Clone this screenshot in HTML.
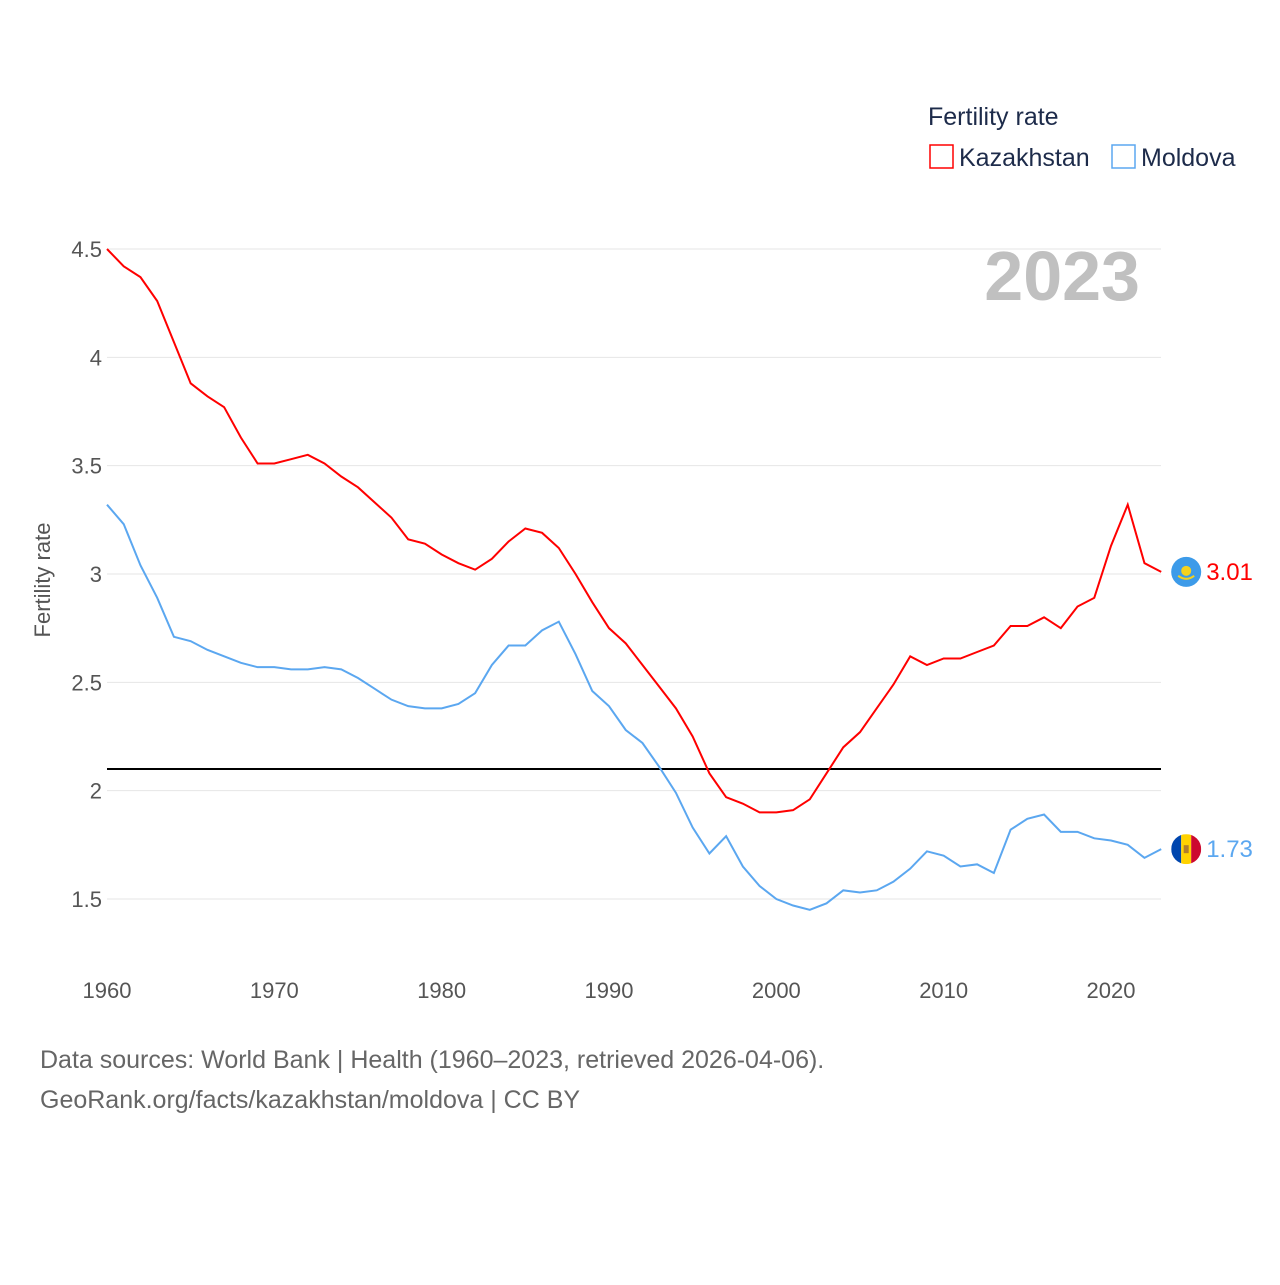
<!DOCTYPE html>
<html><head><meta charset="utf-8"><style>
body{margin:0;background:#fff;font-family:"Liberation Sans",sans-serif;}
svg text{font-family:"Liberation Sans",sans-serif;}
</style></head><body>
<svg id="chart" width="1280" height="1280" xmlns="http://www.w3.org/2000/svg">
<defs><clipPath id="mdclip"><circle cx="0" cy="0" r="15"/></clipPath></defs>
<text x="928" y="125" font-size="25" fill="#1d2b4a">Fertility rate</text>
<g><rect x="930" y="145" width="23" height="23" fill="none" stroke="#f00" stroke-width="1.5"/><text x="959" y="166" font-size="25" fill="#1d2b4a">Kazakhstan</text></g>
<g><rect x="1112" y="145" width="23" height="23" fill="none" stroke="#5ba7f0" stroke-width="1.5"/><text x="1141" y="166" font-size="25" fill="#1d2b4a">Moldova</text></g>
<text x="1140" y="300" font-size="70" font-weight="bold" fill="#c0c0c0" text-anchor="end">2023</text>
<text transform="translate(50,580) rotate(-90)" font-size="22" fill="#555" text-anchor="middle">Fertility rate</text>
<g id="grid"></g><g id="lines"></g>
<text x="40" y="1068" font-size="25" fill="#666">Data sources: World Bank | Health (1960–2023, retrieved 2026-04-06).</text>
<text x="40" y="1108" font-size="25" fill="#666">GeoRank.org/facts/kazakhstan/moldova | CC BY</text>
</svg>
<script>
const years=[];for(let y=1960;y<=2023;y++)years.push(y);
const kazakhstan=[4.50,4.42,4.37,4.26,4.07,3.88,3.82,3.77,3.63,3.51,3.51,3.53,3.55,3.51,3.45,3.40,3.33,3.26,3.16,3.14,3.09,3.05,3.02,3.07,3.15,3.21,3.19,3.12,3.00,2.87,2.75,2.68,2.58,2.48,2.38,2.25,2.08,1.97,1.94,1.90,1.90,1.91,1.96,2.08,2.20,2.27,2.38,2.49,2.62,2.58,2.61,2.61,2.64,2.67,2.76,2.76,2.80,2.75,2.85,2.89,3.13,3.32,3.05,3.01];
const moldova=[3.32,3.23,3.04,2.89,2.71,2.69,2.65,2.62,2.59,2.57,2.57,2.56,2.56,2.57,2.56,2.52,2.47,2.42,2.39,2.38,2.38,2.40,2.45,2.58,2.67,2.67,2.74,2.78,2.63,2.46,2.39,2.28,2.22,2.11,1.99,1.83,1.71,1.79,1.65,1.56,1.50,1.47,1.45,1.48,1.54,1.53,1.54,1.58,1.64,1.72,1.70,1.65,1.66,1.62,1.82,1.87,1.89,1.81,1.81,1.78,1.77,1.75,1.69,1.73];
const yTicks=[1.5,2,2.5,3,3.5,4,4.5];
const xTicks=[1960,1970,1980,1990,2000,2010,2020];
const refValue=2.1;
const X=y=>107+(y-1960)*(1004/60);
const Y=v=>899-(v-1.5)*(650/3);
const NS="http://www.w3.org/2000/svg";
const grid=document.getElementById('grid'),lines=document.getElementById('lines');
function mk(tag,attrs,parent,txt){const e=document.createElementNS(NS,tag);for(const k in attrs)e.setAttribute(k,attrs[k]);if(txt!==undefined)e.textContent=txt;parent.appendChild(e);return e;}
yTicks.forEach(v=>{
 const l=mk('line',{x1:107,x2:1161,y1:Y(v),y2:Y(v),stroke:'#e6e6e6','stroke-width':1},grid);
 
 
 const t=mk('text',{x:102,y:Y(v)+8,'font-size':22,fill:'#555','text-anchor':'end'},grid,String(v));
 
 
});
xTicks.forEach(v=>{
 const t=mk('text',{x:X(v),y:998,'font-size':22,fill:'#555','text-anchor':'middle'},grid,String(v));
 
 
});
const ref=mk('line',{x1:107,x2:1161,y1:Y(refValue),y2:Y(refValue),stroke:'#000','stroke-width':2},lines);


function series(vals,color,name,flag){
 const p=mk('polyline',{points:vals.map((v,i)=>X(years[i])+','+Y(v)).join(' '),fill:'none',stroke:color,'stroke-width':2},lines);
 
 
 const last=vals[vals.length-1],lx=X(years[years.length-1]),ly=Y(last);
 const g=mk('g',{transform:'translate('+(lx+25)+','+ly+')'},lines);
 
 
 if(flag==='kz'){
  mk('circle',{cx:0,cy:0,r:15,fill:'#3d9be9'},g);
  mk('circle',{cx:0,cy:-1,r:5,fill:'#f5d21e'},g);
  mk('path',{d:'M-8 4 Q0 10 8 4',stroke:'#f5d21e','stroke-width':2,fill:'none'},g);
 }else{
  const c=mk('g',{'clip-path':'url(#mdclip)'},g);
  mk('rect',{x:-15,y:-15,width:10,height:30,fill:'#0046ae'},c);
  mk('rect',{x:-5,y:-15,width:10,height:30,fill:'#ffd200'},c);
  mk('rect',{x:5,y:-15,width:10,height:30,fill:'#cc092f'},c);
  mk('rect',{x:-2.5,y:-4,width:5,height:8,fill:'#b07e2c'},g);
 }
 const t=mk('text',{x:lx+45,y:ly+8,'font-size':24,fill:color},lines,last.toFixed(2));
 
 
}
series(kazakhstan,'#f00','kazakhstan','kz');
series(moldova,'#5ba7f0','moldova','md');
</script>
</body></html>
